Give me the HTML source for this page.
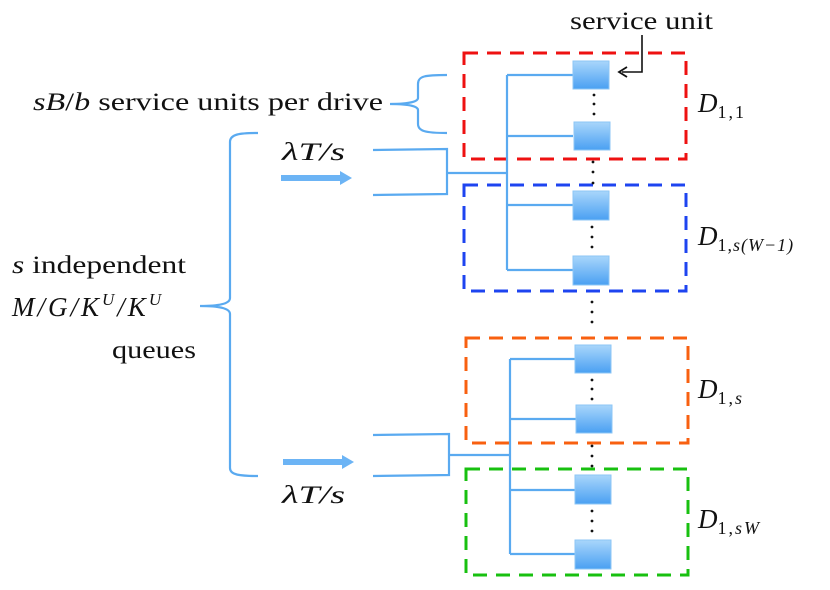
<!DOCTYPE html>
<html><head><style>
html,body{margin:0;padding:0;background:#fff;}
svg{display:block;}
text{font-family:"Liberation Serif",serif;fill:#111;}
.i{font-style:italic;}
</style></head><body>
<svg width="830" height="590" viewBox="0 0 830 590" xmlns="http://www.w3.org/2000/svg">
<defs>
<linearGradient id="g" x1="0" y1="0" x2="0" y2="1">
<stop offset="0" stop-color="#a9d6fb"/><stop offset="1" stop-color="#4aa0f2"/>
</linearGradient>
</defs>
<g fill="none" stroke-width="3" stroke-dasharray="14,9">
<rect x="464" y="53" width="222" height="106" stroke="#ee1111"/>
<rect x="464" y="185" width="222" height="106" stroke="#1e44f0"/>
<rect x="466" y="338" width="222" height="105" stroke="#f86010"/>
<rect x="466" y="469" width="222" height="106" stroke="#18c010"/>
</g>
<g fill="none" stroke="#5aaaf0" stroke-width="2.2">
<path d="M507 75V270M507 75H573M507 136H573M507 205H573M507 270H573"/>
<path d="M373 150L447 149V194L373 195M447 173H507"/>
<path d="M510 359V554M510 359H576M510 419H576M510 490H576M510 554H576"/>
<path d="M373 435L449 434V475L373 476M449 455H510"/>
<path d="M258 133C240 133 230 134 230 142V298C230 303 222 306 200 306C222 306 230 309 230 314V468C230 475 240 476 258 476"/>
<path d="M447 75C425 75 418 76 418 84V98C418 101 412 104 390 104C412 104 418 107 418 110V124C418 131 425 133 447 133"/>
</g>
<g fill="#6cb4f5">
<rect x="281" y="175" width="60" height="6"/><path d="M340 171L352 178L340 185Z"/>
<rect x="283" y="459" width="60" height="6"/><path d="M342 455L354 462L342 469Z"/>
</g>
<g fill="url(#g)" stroke="#8cc6f6" stroke-width="1">
<rect x="573" y="61" width="36" height="28"/>
<rect x="574" y="122" width="36" height="28"/>
<rect x="573" y="191" width="36" height="29"/>
<rect x="573" y="256" width="36" height="29"/>
<rect x="575" y="345" width="36" height="28"/>
<rect x="576" y="405" width="36" height="28"/>
<rect x="575" y="475" width="36" height="29"/>
<rect x="575" y="540" width="36" height="29"/>
</g>
<g fill="#111">
<circle cx="594" cy="95" r="1.4"/><circle cx="594" cy="104" r="1.4"/><circle cx="594" cy="114" r="1.4"/>
<circle cx="593" cy="162" r="1.4"/><circle cx="593" cy="172" r="1.4"/><circle cx="593" cy="183" r="1.4"/>
<circle cx="592" cy="227" r="1.4"/><circle cx="592" cy="237" r="1.4"/><circle cx="592" cy="247" r="1.4"/>
<circle cx="592" cy="302" r="1.4"/><circle cx="592" cy="312" r="1.4"/><circle cx="592" cy="322" r="1.4"/>
<circle cx="592" cy="380" r="1.4"/><circle cx="592" cy="389" r="1.4"/><circle cx="592" cy="399" r="1.4"/>
<circle cx="592" cy="446" r="1.4"/><circle cx="592" cy="456" r="1.4"/><circle cx="592" cy="466" r="1.4"/>
<circle cx="592" cy="511" r="1.4"/><circle cx="592" cy="521" r="1.4"/><circle cx="592" cy="531" r="1.4"/>
</g>
<path d="M642 35V72H622" fill="none" stroke="#111" stroke-width="1.6"/>
<path d="M627 67L619 72L627 77" fill="none" stroke="#111" stroke-width="1.8"/>
<g font-size="25">
<text x="570" y="29" textLength="143" lengthAdjust="spacingAndGlyphs">service unit</text>
<text x="33" y="110" textLength="350" lengthAdjust="spacingAndGlyphs"><tspan class="i">sB</tspan>/<tspan class="i">b</tspan> service units per drive</text>
<text x="282" y="160" class="i" textLength="63" lengthAdjust="spacingAndGlyphs">λT/s</text>
<text x="282" y="503" class="i" textLength="63" lengthAdjust="spacingAndGlyphs">λT/s</text>
<text x="12" y="273" textLength="174" lengthAdjust="spacingAndGlyphs"><tspan class="i">s</tspan> independent</text>
<text x="12" y="316" class="i" font-size="27" letter-spacing="3">M/G/K<tspan font-size="17" dy="-11">U</tspan><tspan dy="11">/K</tspan><tspan font-size="17" dy="-11">U</tspan></text>
<text x="112" y="358" textLength="84" lengthAdjust="spacingAndGlyphs">queues</text>
</g>
<g font-size="27">
<text x="698" y="112" class="i">D<tspan font-size="18" dy="6" font-style="normal" letter-spacing="2">1,1</tspan></text>
<text x="698" y="245" class="i">D<tspan font-size="18" dy="6" letter-spacing="1"><tspan font-style="normal">1,</tspan>s(W−1)</tspan></text>
<text x="698" y="398" class="i">D<tspan font-size="18" dy="6" letter-spacing="2"><tspan font-style="normal">1,</tspan>s</tspan></text>
<text x="698" y="528" class="i">D<tspan font-size="18" dy="6" letter-spacing="2"><tspan font-style="normal">1,</tspan>sW</tspan></text>
</g>
</svg>
</body></html>
